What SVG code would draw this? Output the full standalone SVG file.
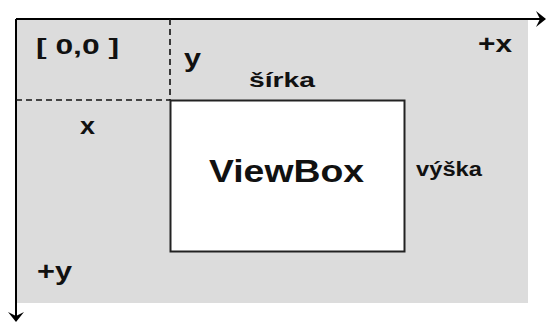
<svg xmlns="http://www.w3.org/2000/svg" width="547" height="323" viewBox="0 0 547 323">
  <style>
    .lbl { font-family: "Liberation Sans", Arial, sans-serif; font-weight: bold; fill: #111; }
    .axis { stroke: #000; stroke-width: 2; fill: none; }
    .guide { stroke: #111; stroke-width: 1.6; stroke-dasharray: 6 4; fill: none; }
  </style>
  <defs>
    <marker id="arrow" viewBox="0 0 10 16" refX="9" refY="8" markerWidth="10" markerHeight="16" markerUnits="userSpaceOnUse" orient="auto">
      <path d="M0,0 L10,8 L0,16 L4,8 Z" fill="#000"/>
    </marker>
  </defs>

  <!-- user space canvas -->
  <g id="canvas">
    <rect x="16" y="19" width="512" height="284" fill="#dcdcdc"/>
  </g>

  <!-- axes and offset guides -->
  <g id="connectors">
    <line class="axis" x1="16" y1="19" x2="545" y2="19" marker-end="url(#arrow)"/>
    <line class="axis" x1="16" y1="19" x2="16" y2="321" marker-end="url(#arrow)"/>
    <line class="guide" x1="170" y1="19" x2="170" y2="100"/>
    <line class="guide" x1="16" y1="100" x2="170" y2="100"/>
  </g>

  <!-- the viewBox rectangle -->
  <g id="viewbox">
    <rect x="170.5" y="100.5" width="234" height="151" fill="#fff" stroke="#222" stroke-width="2"/>
    <text class="lbl" x="209" y="182" font-size="32" textLength="155" lengthAdjust="spacingAndGlyphs">ViewBox</text>
  </g>

  <g id="origin">
    <text class="lbl" x="36" y="54" font-size="22" textLength="83" lengthAdjust="spacingAndGlyphs">[ 0,0 ]</text>
  </g>
  <g id="label-y">
    <text class="lbl" x="184" y="67" font-size="26" textLength="17" lengthAdjust="spacingAndGlyphs">y</text>
  </g>
  <g id="label-x">
    <text class="lbl" x="80" y="134" font-size="24" textLength="15" lengthAdjust="spacingAndGlyphs">x</text>
  </g>
  <g id="label-plus-x">
    <text class="lbl" x="478" y="52" font-size="24" textLength="34" lengthAdjust="spacingAndGlyphs">+x</text>
  </g>
  <g id="label-plus-y">
    <text class="lbl" x="37" y="280" font-size="25" textLength="35" lengthAdjust="spacingAndGlyphs">+y</text>
  </g>
  <g id="label-width">
    <text class="lbl" x="249" y="87" font-size="20" textLength="66" lengthAdjust="spacingAndGlyphs">šírka</text>
  </g>
  <g id="label-height">
    <text class="lbl" x="416" y="176" font-size="20" textLength="66" lengthAdjust="spacingAndGlyphs">výška</text>
  </g>
</svg>
